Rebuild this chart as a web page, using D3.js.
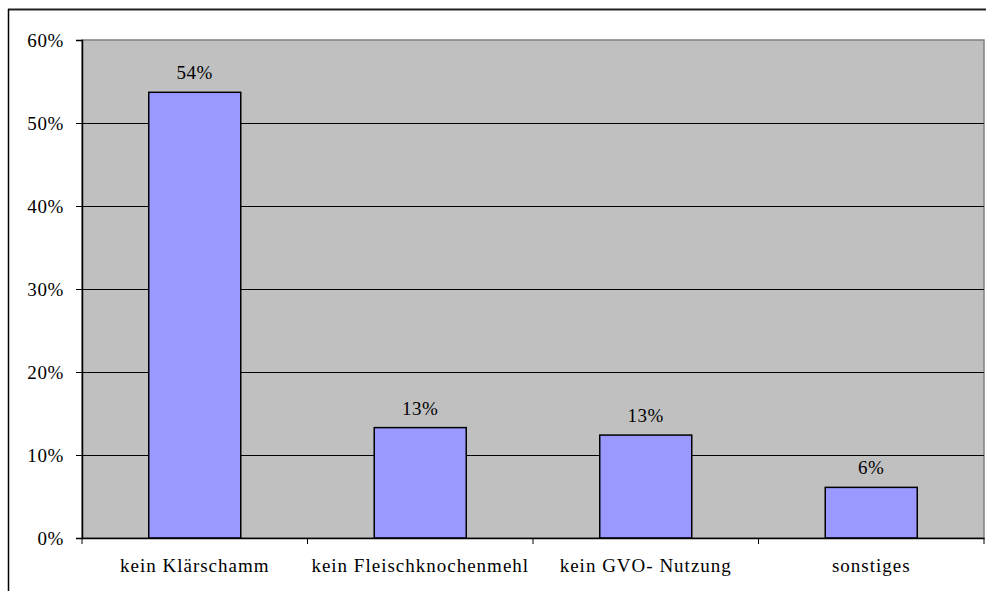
<!DOCTYPE html>
<html><head><meta charset="utf-8">
<script src="https://cdn.jsdelivr.net/npm/d3@7"></script>
<style>body{margin:0;background:#fff;} svg{display:block;} svg text{font-family:"Liberation Serif","Times New Roman",serif !important;font-size:19px !important;fill:#000;letter-spacing:0.6px;}
svg .xax text{letter-spacing:1px;}</style>
</head><body>
<svg id="chart" width="986" height="591"></svg>
<script>
const categories = ["kein Klärschamm", "kein Fleischknochenmehl", "kein GVO- Nutzung", "sonstiges"];
const values = [0.537, 0.133, 0.124, 0.061];
const valueLabels = ["54%", "13%", "13%", "6%"];
const yTicks = [0, 0.1, 0.2, 0.3, 0.4, 0.5, 0.6];

const svg = d3.select("#chart");
const L = 82, R = 984, T = 40, B = 538;

// outer frame
svg.append("line").attr("x1", 8).attr("x2", 986).attr("y1", 9.5).attr("y2", 9.5).attr("stroke", "#222").attr("stroke-width", 2);
svg.append("line").attr("x1", 8.5).attr("x2", 8.5).attr("y1", 9).attr("y2", 591).attr("stroke", "#000").attr("stroke-width", 1.5);

const x = d3.scaleBand().domain(categories).range([L, R]).padding(0);
const y = d3.scaleLinear().domain([0, 0.6]).range([B, T]);

// plot area
svg.append("rect").attr("x", L).attr("y", T).attr("width", R - L).attr("height", B - T)
  .attr("fill", "#C0C0C0").attr("stroke", "#808080").attr("stroke-width", 1.5);

// gridlines
svg.append("g").selectAll("line").data(yTicks.filter(d => d > 0 && d < 0.6)).join("line")
  .attr("x1", L).attr("x2", R).attr("y1", d => Math.round(y(d)) + 0.5).attr("y2", d => Math.round(y(d)) + 0.5)
  .attr("stroke", "#000").attr("stroke-width", 1);

// bars
const bw = x.bandwidth() * 0.408;
svg.append("g").selectAll("rect").data(categories).join("rect")
  .attr("x", d => x(d) + x.bandwidth() / 2 - bw / 2)
  .attr("y", (d, i) => y(values[i]))
  .attr("width", bw)
  .attr("height", (d, i) => B - y(values[i]))
  .attr("fill", "#9999FF").attr("stroke", "#000").attr("stroke-width", 1.5);

// value labels
svg.append("g").selectAll("text").data(categories).join("text")
  .attr("x", d => x(d) + x.bandwidth() / 2)
  .attr("y", (d, i) => y(values[i]) - 13)
  .attr("text-anchor", "middle")
  .text((d, i) => valueLabels[i]);

// y axis
const yAxis = d3.axisLeft(y).tickValues(yTicks).tickFormat(d3.format(".0%")).tickSize(6).tickPadding(12);
const gy = svg.append("g").attr("transform", `translate(${L},0)`).call(yAxis);
gy.attr("font-family", null).attr("font-size", null);
gy.select(".domain").attr("stroke", "#000").attr("stroke-width", 1.5);
gy.selectAll(".tick line").attr("stroke", "#000");

// x axis
const xAxis = d3.axisBottom(x).tickSize(0).tickPadding(21);
const gx = svg.append("g").attr("class", "xax").attr("transform", `translate(0,${B})`).call(xAxis);
gx.attr("font-family", null).attr("font-size", null);
gx.select(".domain").attr("stroke", "#000").attr("stroke-width", 1.5);
// category boundary ticks
const bounds = categories.map(d => x(d)).concat([R]);
svg.append("g").selectAll("line").data(bounds).join("line")
  .attr("x1", d => d).attr("x2", d => d).attr("y1", B).attr("y2", B + 6)
  .attr("stroke", "#000").attr("stroke-width", 1);
</script>
</body></html>
